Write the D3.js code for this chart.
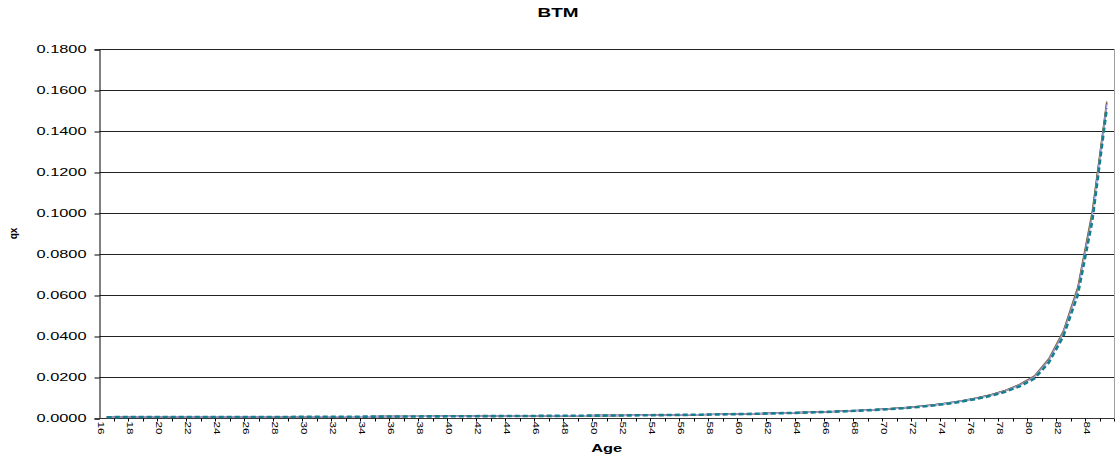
<!DOCTYPE html>
<html>
<head>
<meta charset="utf-8">
<script src="https://cdn.jsdelivr.net/npm/d3@7"></script>
<style>
  html, body { margin: 0; padding: 0; background: #fff; }
  svg { display: block; }
  text { font-family: "Liberation Sans", Arial, Helvetica, sans-serif; fill: #000; }
</style>
</head>
<body>
<svg id="chart" width="1115" height="457"></svg>
<script>
// Ages on the category axis
const ages = d3.range(16, 86);

// Mortality rates qx by age, one array per basis
const qxGray = [
  0.00040,0.00045,0.00050,0.00052,0.00053,0.00052,0.00051,0.00050,0.00050,0.00050,
  0.00051,0.00052,0.00053,0.00055,0.00057,0.00059,0.00062,0.00065,0.00068,0.00071,
  0.00074,0.00077,0.00080,0.00083,0.00086,0.00089,0.00092,0.00095,0.00098,0.00101,
  0.00104,0.00108,0.00112,0.00116,0.00120,0.00125,0.00130,0.00136,0.00142,0.00149,
  0.00157,0.00166,0.00176,0.00187,0.00199,0.00213,0.00229,0.00247,0.00267,0.00289,
  0.00313,0.00340,0.00372,0.00408,0.00450,0.00500,0.00562,0.00638,0.00730,0.00842,
  0.00975,0.01140,0.01350,0.01650,0.02050,0.02900,0.04250,0.06400,0.10100,0.15450
];
const qxOlive = [
  0.00040,0.00045,0.00050,0.00052,0.00053,0.00052,0.00051,0.00050,0.00050,0.00050,
  0.00051,0.00052,0.00053,0.00055,0.00057,0.00059,0.00062,0.00065,0.00068,0.00071,
  0.00074,0.00077,0.00080,0.00083,0.00086,0.00089,0.00092,0.00095,0.00098,0.00101,
  0.00104,0.00108,0.00112,0.00116,0.00120,0.00125,0.00130,0.00136,0.00142,0.00149,
  0.00157,0.00166,0.00176,0.00187,0.00199,0.00213,0.00229,0.00247,0.00267,0.00289,
  0.00313,0.00340,0.00371,0.00406,0.00448,0.00498,0.00559,0.00634,0.00725,0.00836,
  0.00968,0.01130,0.01340,0.01630,0.02030,0.02860,0.04200,0.06330,0.10000,0.15400
];
const qxBrown = [
  0.00040,0.00045,0.00050,0.00052,0.00053,0.00052,0.00051,0.00050,0.00050,0.00050,
  0.00051,0.00052,0.00053,0.00055,0.00057,0.00059,0.00062,0.00065,0.00068,0.00071,
  0.00074,0.00077,0.00080,0.00083,0.00086,0.00089,0.00092,0.00095,0.00098,0.00101,
  0.00104,0.00108,0.00112,0.00116,0.00120,0.00125,0.00130,0.00136,0.00142,0.00149,
  0.00157,0.00166,0.00176,0.00187,0.00199,0.00213,0.00229,0.00247,0.00267,0.00289,
  0.00313,0.00340,0.00370,0.00405,0.00446,0.00496,0.00556,0.00631,0.00721,0.00831,
  0.00962,0.01122,0.01330,0.01620,0.02010,0.02830,0.04160,0.06280,0.09920,0.15350
];
const qxLavender = [
  0.00040,0.00045,0.00050,0.00052,0.00053,0.00052,0.00051,0.00050,0.00050,0.00050,
  0.00051,0.00052,0.00053,0.00055,0.00057,0.00059,0.00062,0.00065,0.00068,0.00071,
  0.00074,0.00077,0.00080,0.00083,0.00086,0.00089,0.00092,0.00095,0.00098,0.00101,
  0.00104,0.00108,0.00112,0.00116,0.00120,0.00125,0.00130,0.00136,0.00142,0.00149,
  0.00157,0.00166,0.00176,0.00187,0.00199,0.00213,0.00229,0.00247,0.00267,0.00289,
  0.00313,0.00340,0.00369,0.00404,0.00445,0.00494,0.00554,0.00628,0.00718,0.00827,
  0.00958,0.01118,0.01320,0.01610,0.02000,0.02810,0.04130,0.06220,0.09850,0.15300
];
const qxTeal = [
  0.00038,0.00043,0.00048,0.00050,0.00051,0.00050,0.00049,0.00048,0.00048,0.00048,
  0.00049,0.00050,0.00051,0.00053,0.00055,0.00057,0.00060,0.00063,0.00066,0.00069,
  0.00072,0.00075,0.00078,0.00081,0.00084,0.00087,0.00090,0.00093,0.00096,0.00099,
  0.00102,0.00105,0.00109,0.00113,0.00117,0.00122,0.00127,0.00133,0.00139,0.00146,
  0.00154,0.00162,0.00172,0.00183,0.00195,0.00208,0.00224,0.00242,0.00261,0.00282,
  0.00305,0.00331,0.00360,0.00394,0.00433,0.00480,0.00538,0.00609,0.00697,0.00803,
  0.00930,0.01085,0.01280,0.01550,0.01920,0.02700,0.03980,0.06000,0.09600,0.15100
];

const yTickValues = [0, 0.02, 0.04, 0.06, 0.08, 0.10, 0.12, 0.14, 0.16, 0.18];

const series = [
  { values: qxGray,     color: "#8c8c8c", width: 1.4, dash: null },
  { values: qxOlive,    color: "#7f7f2a", width: 1.4, dash: null },
  { values: qxBrown,    color: "#8a4b2a", width: 1.4, dash: null },
  { values: qxLavender, color: "#a9a3e8", width: 1.4, dash: null },
  { values: qxTeal,     color: "#157f8c", width: 2.6, dash: "5,3" }
];

const svg = d3.select("#chart");
const plotL = 99.5, plotR = 1114, plotT = 49, plotB = 418;

const x = d3.scaleBand().domain(ages).range([plotL, plotR]).padding(0);
const y = d3.scaleLinear().domain([0, 0.18]).range([plotB, plotT]);

// Horizontal gridlines
svg.append("g")
  .selectAll("line")
  .data(yTickValues.filter(d => d > 0))
  .join("line")
  .attr("x1", plotL).attr("x2", plotR)
  .attr("y1", d => Math.round(y(d)) + 0.5).attr("y2", d => Math.round(y(d)) + 0.5)
  .attr("stroke", "#222").attr("stroke-width", 1);

// Right border of the plot area
svg.append("line")
  .attr("x1", plotR + 0.5).attr("x2", plotR + 0.5)
  .attr("y1", plotT).attr("y2", plotB)
  .attr("stroke", "#a0a0a0");

// Y axis
const yAxis = d3.axisLeft(y).tickValues(yTickValues).tickSize(5).tickFormat(d3.format(".4f"));
const gy = svg.append("g").attr("transform", `translate(${plotL},0.5)`).call(yAxis);
gy.select(".domain").attr("stroke", "#000");
gy.selectAll(".tick line").attr("stroke", "#000");
gy.selectAll(".tick text")
  .attr("x", -13)
  .attr("font-size", 10)
  .attr("textLength", 50)
  .attr("lengthAdjust", "spacingAndGlyphs")
  .style("font-family", "'Liberation Sans', Arial, sans-serif")
  .attr("fill", "#000");

// X axis: ticks on band boundaries, labels on every second age
const gx = svg.append("g").attr("transform", `translate(0,${plotB + 0.5})`);
gx.append("line")
  .attr("x1", plotL).attr("x2", plotR).attr("stroke", "#333");
gx.selectAll("line.tk")
  .data(ages.slice(1).concat([null]))
  .join("line")
  .attr("class", "tk")
  .attr("x1", (d, i) => Math.round(plotL + (i + 1) * x.bandwidth()) + 0.5)
  .attr("x2", (d, i) => Math.round(plotL + (i + 1) * x.bandwidth()) + 0.5)
  .attr("y1", 0).attr("y2", 3)
  .attr("stroke", "#000");
const labelGroups = gx.selectAll("g.lbl")
  .data(ages.filter(a => a % 2 === 0))
  .join("g")
  .attr("class", "lbl")
  .attr("transform", d => `translate(${x(d) + x.bandwidth() / 2 - 8.5},3) rotate(90)`);
labelGroups.append("text")
  .attr("font-size", 8.5)
  .attr("textLength", 13)
  .attr("lengthAdjust", "spacingAndGlyphs")
  .text(d => d);

// Series lines
const line = d3.line()
  .x((d, i) => x(ages[i]) + x.bandwidth() / 2)
  .y(d => y(d));

svg.append("g")
  .selectAll("path")
  .data(series)
  .join("path")
  .attr("d", s => line(s.values))
  .attr("fill", "none")
  .attr("stroke", s => s.color)
  .attr("stroke-width", s => s.width)
  .attr("stroke-dasharray", s => s.dash)
  .attr("stroke-linejoin", "round");

// Titles
svg.append("text")
  .attr("x", 558).attr("y", 17)
  .attr("text-anchor", "middle")
  .attr("font-size", 12).attr("font-weight", "bold")
  .attr("textLength", 41).attr("lengthAdjust", "spacingAndGlyphs")
  .text("BTM");

svg.append("text")
  .attr("x", (plotL + plotR) / 2).attr("y", 452)
  .attr("text-anchor", "middle")
  .attr("font-size", 11).attr("font-weight", "bold")
  .attr("textLength", 31).attr("lengthAdjust", "spacingAndGlyphs")
  .text("Age");

svg.append("text")
  .attr("transform", `translate(17,${(plotT + plotB) / 2}) rotate(-90)`)
  .attr("text-anchor", "middle")
  .attr("font-size", 10).attr("font-weight", "bold")
  .text("qx");
</script>
</body>
</html>
